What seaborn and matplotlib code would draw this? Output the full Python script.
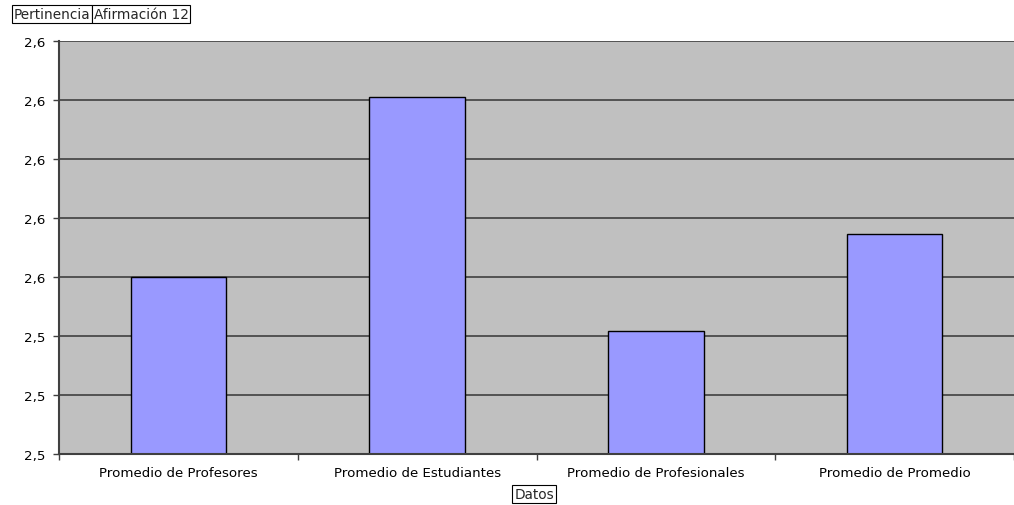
import numpy as np
import pandas as pd
import matplotlib
matplotlib.use("Agg")
import matplotlib.pyplot as plt
from matplotlib.ticker import FuncFormatter, FixedLocator
import seaborn as sns

categories = ["Promedio de Profesores", "Promedio de Estudiantes",
              "Promedio de Profesionales", "Promedio de Promedio"]
values = [2.560, 2.6211, 2.5418, 2.5745]
title_left = "Pertinencia"
title_right = "Afirmación 12"
xlabel = "Datos"

sns.set_theme(style="white")
plt.rcParams['font.family'] = ['DejaVu Sans']

df = pd.DataFrame({"cat": categories, "val": values})

fig = plt.figure(figsize=(10.14, 5.06), dpi=100)
W, H = 1014, 506
ax = fig.add_axes([59 / W, (H - 455) / H, (1014 - 59) / W, (455 - 42) / H])
ax.set_facecolor("#C0C0C0")

sns.barplot(data=df, x="cat", y="val", ax=ax, color="#9999FF",
            width=0.4, edgecolor="black", linewidth=1.0, saturation=1)

ax.set_ylim(2.50, 2.64)
ax.set_xlim(-0.5, 3.5)
yt = np.arange(2.50, 2.6401, 0.02)
ax.set_yticks(yt)
ax.yaxis.set_major_formatter(FuncFormatter(lambda v, p: f"{v:.1f}".replace(".", ",")))
ax.yaxis.grid(True, color="#404040", linewidth=1.2)
ax.set_axisbelow(True)

fs = 9.6
ax.tick_params(axis="y", which="major", left=True, length=4, width=1,
               color="#404040", labelsize=fs, pad=6, labelcolor="black")
ax.tick_params(axis="x", which="major", bottom=False, labelsize=fs, pad=2.5,
               labelcolor="black")
ax.xaxis.set_minor_locator(FixedLocator([-0.5, 0.5, 1.5, 2.5, 3.5]))
ax.tick_params(axis="x", which="minor", bottom=True, length=4, width=1,
               color="#404040")

for s in ["top", "right"]:
    ax.spines[s].set_visible(False)
for s in ["left", "bottom"]:
    ax.spines[s].set_color("#404040")
    ax.spines[s].set_linewidth(1.5)

ax.set_xlabel("")
ax.set_ylabel("")

fs_t = 9.8
pad = 0.12
bbox = dict(boxstyle=f"square,pad={pad}", fc="white", ec="black", lw=0.8)
t1 = fig.text(14 / W, 1 - 15 / H, title_left, fontsize=fs_t, va="center",
              ha="left", bbox=bbox)
fig.canvas.draw()
pb = t1.get_bbox_patch().get_window_extent()
pad_px = pad * fs_t * 100 / 72
fig.text((pb.x1 + pad_px) / W, 1 - 15 / H, title_right, fontsize=fs_t,
         va="center", ha="left", bbox=bbox)
fig.text(534 / W, 1 - 495 / H, xlabel, fontsize=fs_t, va="center",
         ha="center", bbox=bbox)

fig.savefig("out.png", dpi=100, facecolor="white")
